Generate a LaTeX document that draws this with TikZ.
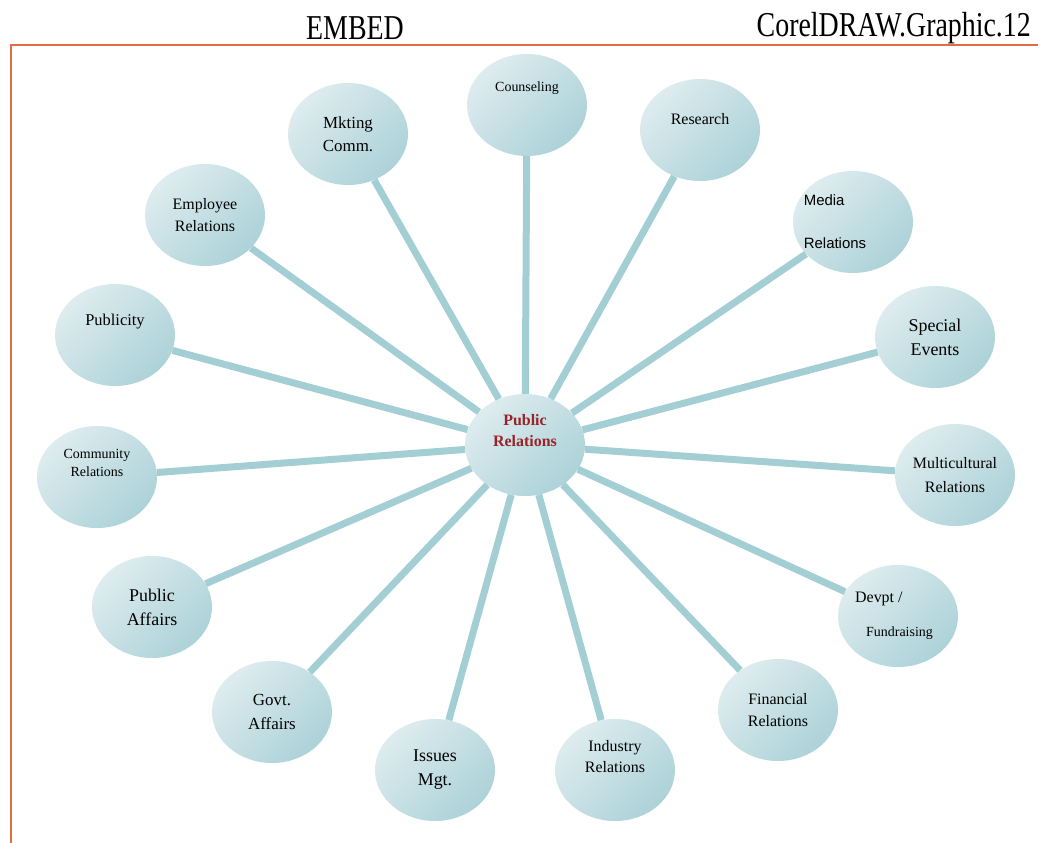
\documentclass[tikz,border=0pt]{standalone}
\usepackage{graphicx}
\usepackage{fontspec}
\setmainfont{Liberation Serif}
\newfontfamily\arialfont{Liberation Sans}
\usetikzlibrary{shapes,positioning}
\definecolor{bubL}{RGB}{222,236,239}
\definecolor{bubD}{RGB}{172,210,216}
\definecolor{spoke}{RGB}{163,206,211}
\definecolor{frameor}{RGB}{226,108,62}
\definecolor{prred}{RGB}{150,36,40}

\begin{document}
\begin{tikzpicture}[x=1bp,y=-1bp]
  
  \tikzset{bubble/.style={ellipse, minimum width=120bp, minimum height=102bp,
  		inner sep=0pt, align=center, top color=bubL, bottom color=bubD,
  		shading angle=45, font=\fontsize{16}{23}\selectfont}, }
  \tikzset{lbl/.style={inner sep=0pt, align=center, font=\fontsize{16}{22}\selectfont}, }
  \tikzset{hdr/.style={inner sep=0pt, font=\fontsize{35}{35}\selectfont}, }
  \tikzset{spokeline/.style={draw=spoke, line width=7bp}, }
\useasboundingbox (0,0) rectangle (1038,843);
\draw[frameor, line width=2bp] (11,843) -- (11,45) -- (1038,45);
\node[hdr] (embed) at (355,28) {\scalebox{0.8}[1]{EMBED}};
\node[hdr, anchor=east] (corel) at (1031,28) {\scalebox{0.8}[1]{CorelDRAW.Graphic.12}};
\node[bubble, font=\bfseries\fontsize{16}{21}\selectfont\color{prred}] (pr) at (525,445) {Public\\Relations\\[8bp]};
\node[bubble, label={[lbl, yshift=17bp, font=\fontsize{14}{14}\selectfont]center:Counseling}] (cns) at (527,105) {};
\node[bubble, font=\fontsize{17}{23}\selectfont] (mkt) at (348,134) {Mkting\\Comm.};
\node[bubble, label={[lbl, yshift=11bp]center:Research}] (res) at (700,130) {};
\node[bubble, font=\fontsize{16}{22}\selectfont] (emp) at (205,215) {Employee\\Relations};
\node[bubble, label={[lbl, xshift=-18bp, align=left, font=\arialfont\fontsize{15}{43}\selectfont]center:Media\\Relations}] (med) at (853,222) {};
\node[bubble, label={[lbl, yshift=13bp, font=\fontsize{16.5}{20}\selectfont]center:Publicity}] (pub) at (115,335) {};
\node[bubble, font=\fontsize{18}{24}\selectfont] (spe) at (935,337) {Special\\Events};
\node[bubble, font=\fontsize{14}{18}\selectfont] (com) at (97,477) {Community\\Relations\\[10bp]};
\node[bubble, font=\fontsize{16}{24}\selectfont] (mul) at (955,475) {Multicultural\\Relations};
\node[bubble, font=\fontsize{18}{24}\selectfont] (paf) at (152,607) {Public\\Affairs};
\node[bubble, label={[lbl, xshift=-4bp, align=left, font=\fontsize{16}{34}\selectfont]center:Devpt /\\\hspace*{11bp}{\fontsize{14}{14}\selectfont Fundraising}}] (dev) at (898,616) {};
\node[bubble, font=\fontsize{17}{24}\selectfont] (gov) at (272,712) {Govt.\\Affairs};
\node[bubble, font=\fontsize{16}{22}\selectfont] (fin) at (778,710) {Financial\\Relations};
\node[bubble, font=\fontsize{18}{24}\selectfont] (iss) at (435,770) {Issues\\Mgt.};
\node[bubble, font=\fontsize{16}{21}\selectfont] (ind) at (615,770) {Industry\\Relations\\[6bp]};
\foreach \x in {cns,mkt,res,emp,med,pub,spe,com,mul,paf,dev,gov,fin,iss,ind}
  \path[spokeline] (pr) edge (\x);
%%  
\end{tikzpicture}
\end{document}
